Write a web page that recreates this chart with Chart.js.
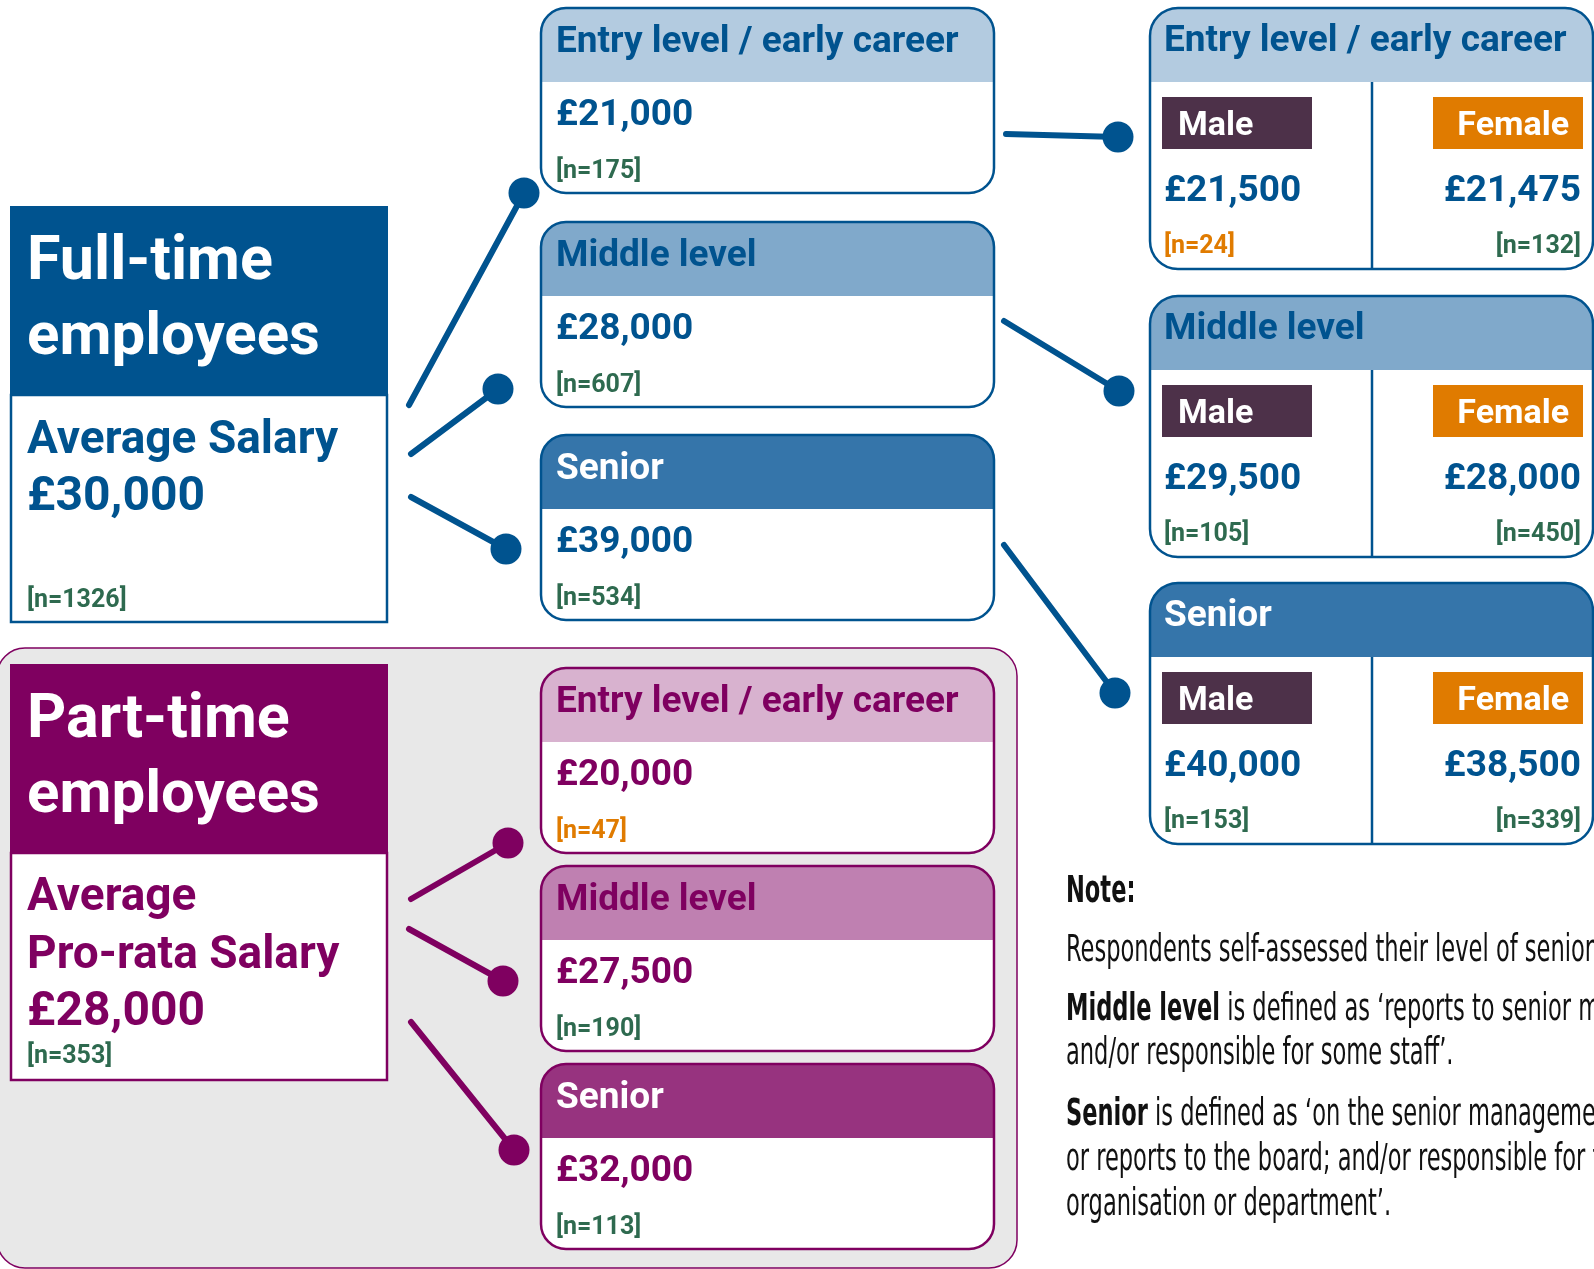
<!DOCTYPE html>
<html>
<head>
<meta charset="utf-8">
<script src="https://cdn.jsdelivr.net/npm/chart.js@4.4.0/dist/chart.umd.min.js"></script>
<style>
html, body { margin: 0; padding: 0; background: #fff; overflow: hidden; }
canvas { display: block; }
</style>
</head>
<body>
<canvas id="myChart" width="1594" height="1269"></canvas>
<script>
const levels = ['Entry level / early career', 'Middle level', 'Senior'];
const fullTimeAverage = 30000;
const fullTimeTotalN = 1326;
const fullTimeSalary = [21000, 28000, 39000];
const fullTimeN = [175, 607, 534];
const partTimeAverage = 28000;
const partTimeTotalN = 353;
const partTimeSalary = [20000, 27500, 32000];
const partTimeN = [47, 190, 113];
const maleSalary = [21500, 29500, 40000];
const maleN = [24, 105, 153];
const femaleSalary = [21475, 28000, 38500];
const femaleN = [132, 450, 339];
const noteLines = [
  [{ t: 'Note:', b: true }],
  [{ t: 'Respondents self-assessed their level of seniority.' }],
  [{ t: 'Middle level', b: true }, { t: ' is defined as \u2018reports to senior management' }],
  [{ t: 'and/or responsible for some staff\u2019.' }],
  [{ t: 'Senior', b: true }, { t: ' is defined as \u2018on the senior management team' }],
  [{ t: 'or reports to the board; and/or responsible for the whole' }],
  [{ t: 'organisation or department\u2019.' }]
];

// colours
const blue = '#00538f';
const purple = '#7f0060';
const green = '#2e6a4f';
const orange = '#e07b00';
const maleCol = '#4d3149';
const ftHead = ['#b3cbe0', '#80a9cb', '#3575aa'];
const ptHead = ['#d8b2cf', '#bf80b1', '#97337f'];

// layout (page pixels)
const midX = 541, midW = 453, boxH = 185, headH = 74;
const ftBoxY = [8, 222, 435];
const ptBoxY = [668, 866, 1064];
const rightX = 1150, rightW = 443, rightH = 261, divX = 1372;
const rightY = [8, 296, 583];
const noteBase = [902, 961, 1020, 1064, 1125, 1170, 1215];
const connectors = [
  [409, 405, 524, 193, blue], [411, 454, 498, 389, blue], [411, 497, 506, 549, blue],
  [1006, 134, 1118, 137, blue], [1004, 321, 1119, 391, blue], [1004, 545, 1115, 693, blue],
  [411, 899, 508, 843, purple], [409, 929, 503, 981, purple], [411, 1022, 514, 1150, purple]
];

const DIN = 'Roboto, "DejaVu Sans", sans-serif';
const money = v => '\u00a3' + v.toLocaleString('en-GB');
const nLabel = n => '[n=' + n + ']';
const nColor = n => n < 50 ? orange : green;

function txt(c, s, x, y, size, color, align) {
  c.font = 'bold ' + size + 'px ' + DIN;
  c.fillStyle = color;
  c.textAlign = align || 'left';
  c.textBaseline = 'alphabetic';
  c.fillText(s, x, y);
}

function levelBox(c, px, py, x, y, w, h, r, head, border) {
  c.save();
  c.beginPath();
  c.roundRect(px(x), py(y), w, h, r);
  c.fillStyle = '#fff';
  c.fill();
  c.save();
  c.clip();
  c.fillStyle = head;
  c.fillRect(px(x), py(y), w, headH);
  c.restore();
  c.lineWidth = 2.5;
  c.strokeStyle = border;
  c.stroke();
  c.restore();
}

const infographic = {
  id: 'infographic',
  beforeDatasetsDraw(chart) {
    const c = chart.ctx;
    const px = v => chart.scales.x.getPixelForValue(v);
    const py = v => chart.scales.y.getPixelForValue(v);

    // part-time grey panel
    c.save();
    c.beginPath();
    c.roundRect(px(-3), py(648), 1020, 620, 28);
    c.fillStyle = '#e8e8e8';
    c.fill();
    c.lineWidth = 1.5;
    c.strokeStyle = purple;
    c.stroke();
    c.restore();

    // left summary boxes
    [[206, blue, 'Full-time'], [664, purple, 'Part-time']].forEach(([y0, col, name]) => {
      c.fillStyle = '#fff';
      c.fillRect(px(11), py(y0 + 189), 376, 227);
      c.lineWidth = 2.5;
      c.strokeStyle = col;
      c.strokeRect(px(11), py(y0 + 189), 376, 227);
      c.fillStyle = col;
      c.fillRect(px(10), py(y0), 378, 189);
      txt(c, name, px(27), py(y0 + 73), 61, '#fff');
      txt(c, 'employees', px(27), py(y0 + 148), 60, '#fff');
    });
    txt(c, 'Average Salary', px(27), py(453), 46, blue);
    txt(c, money(fullTimeAverage), px(27), py(510), 48, blue);
    txt(c, nLabel(fullTimeTotalN), px(27), py(607), 25, nColor(fullTimeTotalN));
    txt(c, 'Average', px(27), py(910), 46, purple);
    txt(c, 'Pro-rata Salary', px(27), py(968), 46, purple);
    txt(c, money(partTimeAverage), px(27), py(1025), 48, purple);
    txt(c, nLabel(partTimeTotalN), px(27), py(1063), 25, nColor(partTimeTotalN));

    // middle column: salary by level
    levels.forEach((lv, i) => {
      let y = ftBoxY[i];
      levelBox(c, px, py, midX, y, midW, boxH, 25, ftHead[i], blue);
      txt(c, lv, px(midX + 15), py(y + 44), 37, i === 2 ? '#fff' : blue);
      txt(c, money(fullTimeSalary[i]), px(midX + 15), py(y + 117), 37, blue);
      txt(c, nLabel(fullTimeN[i]), px(midX + 15), py(y + 170), 25, nColor(fullTimeN[i]));

      y = ptBoxY[i];
      levelBox(c, px, py, midX, y, midW, boxH, 25, ptHead[i], purple);
      txt(c, lv, px(midX + 15), py(y + 44), 37, i === 2 ? '#fff' : purple);
      txt(c, money(partTimeSalary[i]), px(midX + 15), py(y + 117), 37, purple);
      txt(c, nLabel(partTimeN[i]), px(midX + 15), py(y + 170), 25, nColor(partTimeN[i]));
    });

    // right column: full-time by gender
    levels.forEach((lv, i) => {
      const y = rightY[i];
      levelBox(c, px, py, rightX, y, rightW, rightH, 28, ftHead[i], blue);
      c.beginPath();
      c.moveTo(px(divX), py(y + headH));
      c.lineTo(px(divX), py(y + rightH));
      c.lineWidth = 2.5;
      c.strokeStyle = blue;
      c.stroke();
      txt(c, lv, px(rightX + 14), py(y + 43), 37, i === 2 ? '#fff' : blue);
      c.fillStyle = maleCol;
      c.fillRect(px(1162), py(y + 89), 150, 52);
      c.fillStyle = orange;
      c.fillRect(px(1433), py(y + 89), 150, 52);
      txt(c, 'Male', px(1178), py(y + 127), 34, '#fff');
      txt(c, 'Female', px(1569), py(y + 127), 34, '#fff', 'right');
      txt(c, money(maleSalary[i]), px(1164), py(y + 193), 37, blue);
      txt(c, money(femaleSalary[i]), px(1581), py(y + 193), 37, blue, 'right');
      txt(c, nLabel(maleN[i]), px(1164), py(y + 245), 25, nColor(maleN[i]));
      txt(c, nLabel(femaleN[i]), px(1581), py(y + 245), 25, nColor(femaleN[i]), 'right');
    });

    // note text (condensed)
    const noteFont = b => (b ? 'bold ' : '') + '37px "Liberation Sans Narrow", "DejaVu Sans Condensed", "Noto Sans", sans-serif';
    c.font = noteFont(false);
    const squeeze = 528 / c.measureText('Respondents self-assessed their level of senior').width;
    noteLines.forEach((runs, k) => {
      c.save();
      c.translate(px(1066), py(noteBase[k]));
      c.scale(squeeze, 1);
      c.fillStyle = '#111';
      c.textAlign = 'left';
      c.textBaseline = 'alphabetic';
      let cx = 0;
      runs.forEach(r => {
        c.font = noteFont(r.b || k === 0);
        c.fillText(r.t, cx, 0);
        cx += c.measureText(r.t).width;
      });
      c.restore();
    });
  }
};

const ctx = document.getElementById('myChart');
new Chart(ctx, {
  type: 'line',
  data: {
    datasets: connectors.map(k => ({
      data: [{ x: k[0], y: k[1] }, { x: k[2], y: k[3] }],
      borderColor: k[4],
      borderWidth: 6,
      borderCapStyle: 'round',
      pointRadius: [0, 15.5],
      pointHoverRadius: [0, 15.5],
      pointBackgroundColor: k[4],
      pointBorderWidth: 0,
      clip: false
    }))
  },
  options: {
    responsive: false,
    animation: false,
    events: [],
    layout: { padding: 0, autoPadding: false },
    scales: {
      x: { type: 'linear', min: 0, max: 1594, display: false },
      y: { type: 'linear', min: 0, max: 1269, reverse: true, display: false }
    },
    plugins: { legend: { display: false }, tooltip: { enabled: false } }
  },
  plugins: [infographic]
});
</script>
</body>
</html>
